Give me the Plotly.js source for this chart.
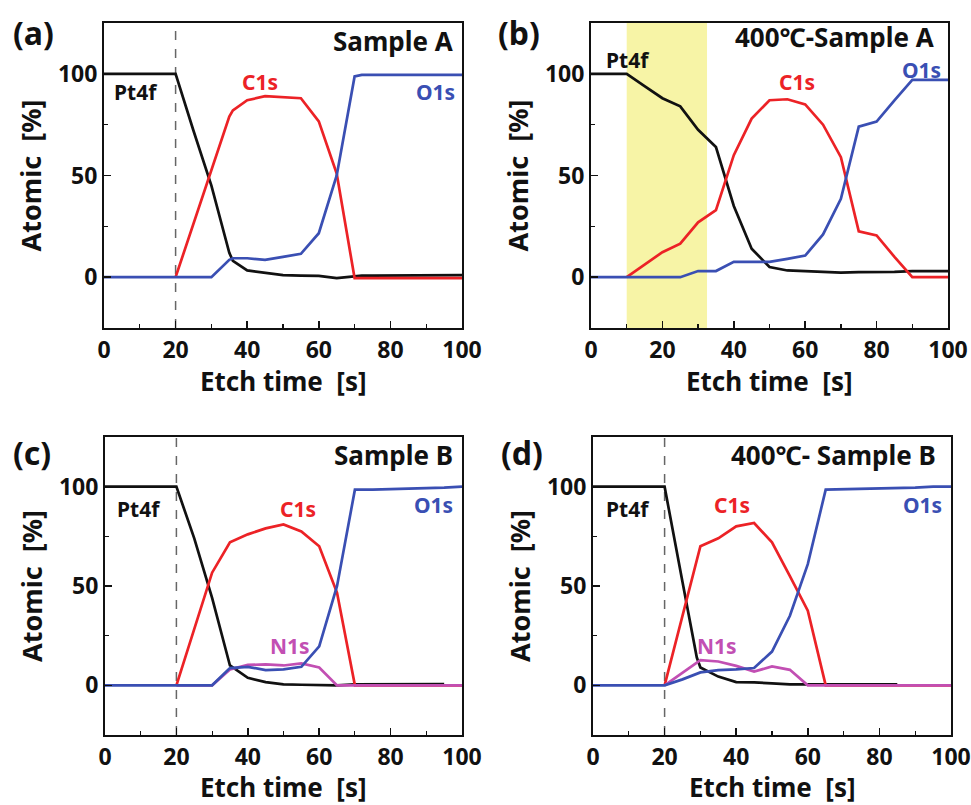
<!DOCTYPE html>
<html>
<head>
<meta charset="utf-8">
<script src="https://cdn.plot.ly/plotly-3.0.1.min.js"></script>
<style>html,body{margin:0;padding:0;background:#fff;} #chart{width:971px;height:805px;}</style>
</head>
<body>
<div id="chart"></div>
<script>
// ---------- DATA ----------
// Panel (a) Sample A
const tA = [0,5,10,15,20,25,30,35,36,40,45,50,55,60,65,70,72,75,80,85,90,95,100];
const a_Pt4f = [100,100,100,100,100,72,45,12,8,3.3,2,1,0.8,0.6,-0.5,0.6,0.8,0.8,0.8,0.8,0.8,1,1];
const a_C1s  = [null,null,null,null,0,26,52.6,79,82,87,89,88.5,88,76.6,51,-0.5,-0.5,-0.5,-0.5,-0.5,-0.5,-0.5,-0.5];
const a_O1s  = [0,0,0,0,0,0,0,8.5,9.3,9.3,8.5,10,11.5,21.6,50,98.7,99.5,99.5,99.5,99.5,99.5,99.5,99.5];

// Panel (b) 400℃-Sample A
const tB = [0,5,10,15,20,25,30,35,40,45,50,55,60,65,70,75,80,85,90,95,100];
const b_Pt4f = [100,100,100,94,88,84,72.5,64,35,14,5,3.3,3,2.8,2.2,2.5,2.5,2.6,3,3,3];
const b_C1s  = [null,null,0,6,12.3,16.5,27,33,60,78,87,87.5,85,75,59,22.5,20.5,10,0,0,0];
const b_O1s  = [0,0,0,0,0,0,3,3,7.5,7.5,7.5,9,10.6,21,38.5,74,76.5,87,97,97,97];

// Panel (c) Sample B
const tC = [0,5,10,15,20,25,30,35,40,45,50,55,60,65,70,75,80,85,90,95,100];
const c_Pt4f = [100,100,100,100,100,74,44,10,3.8,1.6,0.5,0.3,0.2,0,0.5,0.5,0.8,0.8,0.6,0.6,null];
const c_C1s  = [null,null,null,null,0,28.5,56.7,72,76,79,81,77.5,70,46.6,0,0,0,0,0,0,0];
const c_N1s  = [null,null,null,null,0,0,0,8,10.3,10.5,10,11,9,0,0,0,0,0,0,0,0];
const c_O1s  = [0,0,0,0,0,0,0,8.7,9.3,7.7,8,9.3,19.6,50,98.5,98.5,98.7,99,99,99.5,100];

// Panel (d) 400℃-Sample B
const tD_Pt4f = [0,5,10,15,20,25,29,30,35,40,45,50,55,60,65,70,75,80,85];
const d_Pt4f = [100,100,100,100,100,52,14,9,4.4,1.6,1.5,1,0.5,0.5,0.5,0.5,0.5,0.5,0.5];
const tD = [0,5,10,15,20,25,30,35,40,45,50,55,60,65,70,75,80,85,90,95,100];
const d_C1s  = [null,null,null,null,0,35,70,74,80,81.7,72,55,37.6,0,0,0,0,0,0,0,0];
const d_N1s  = [null,null,null,null,0,6.5,12.7,12,9.8,6.9,9.5,7.8,0,0,0,0,0,0,0,0,0];
const d_O1s  = [0,0,0,0,0,3,6.5,7.7,8,8.7,17,35,61,98.5,98.7,99,99,99.5,99.5,100,100];

// reference markers
const dashedTimes = [20, null, 20, 20];      // vertical dashed line per panel
const highlightB = [10, 32.5];               // yellow band in panel (b)

const panelLetters = ["(a)","(b)","(c)","(d)"];
const panelTitles = ["Sample A","400\u2103-Sample A","Sample B","400\u2103- Sample B"];
const xTitle = "Etch time\u00a0 [s]";
const yTitle = "Atomic\u00a0 [%]";
const xTicks = [0,20,40,60,80,100];
const yTicks = [0,50,100];

// ---------- STYLE ----------
const COL = {Pt4f:"#111111", C1s:"#ec2226", N1s:"#c24fb3", O1s:"#3a4fb3"};
const FONT = "Noto Sans, Open Sans, Liberation Sans, Arial, sans-serif";

const panels = [
  {xa:"x", ya:"y", series:[["Pt4f",tA,a_Pt4f],["C1s",tA,a_C1s],["O1s",tA,a_O1s]]},
  {xa:"x2",ya:"y2",series:[["Pt4f",tB,b_Pt4f],["C1s",tB,b_C1s],["O1s",tB,b_O1s]]},
  {xa:"x3",ya:"y3",series:[["Pt4f",tC,c_Pt4f],["C1s",tC,c_C1s],["N1s",tC,c_N1s],["O1s",tC,c_O1s]]},
  {xa:"x4",ya:"y4",series:[["Pt4f",tD_Pt4f,d_Pt4f],["C1s",tD,d_C1s],["N1s",tD,d_N1s],["O1s",tD,d_O1s]]}
];

const traces = [];
panels.forEach(p => {
  p.series.forEach(s => {
    traces.push({x:s[1], y:s[2], xaxis:p.xa, yaxis:p.ya, type:"scatter", mode:"lines",
      name:s[0], showlegend:false, hoverinfo:"skip", connectgaps:false,
      line:{color:COL[s[0]], width:2.7}});
  });
});

const W=971, H=805;
const boxes = [ // pixel boxes [x0,x1,y0,y1]
  [104,462,23,328],[591,948,23,328],[105,462,437,735],[593,951,437,735]
];
const xTitleY = [381,381,787,787];
function dom(b){return {x:[b[0]/W,b[1]/W], y:[1-b[3]/H, 1-b[2]/H]};}

function xaxisDef(d, anchor){
  return {domain:d.x, anchor:anchor, range:[0,100], tickvals:xTicks, ticks:"inside", ticklen:7, tickwidth:1.5,
    tickcolor:"#111", showline:true, linecolor:"#111", linewidth:2, mirror:true, showgrid:false, zeroline:false,
    ticklabeloverflow:"allow",
    minor:{ticks:"inside", ticklen:4, tickwidth:1.2, dtick:10, tickcolor:"#111", showgrid:false},
    tickfont:{family:FONT, size:23, color:"#111", weight:"bold"}};
}
function yaxisDef(d, anchor){
  return {domain:d.y, anchor:anchor, range:[-25,125], tickvals:yTicks, ticks:"inside", ticklen:7, tickwidth:1.5,
    tickcolor:"#111", showline:true, linecolor:"#111", linewidth:2, mirror:true, showgrid:false, zeroline:false,
    minor:{ticks:"inside", ticklen:4, tickwidth:1.2, dtick:25, tickcolor:"#111", showgrid:false},
    tickfont:{family:FONT, size:23, color:"#111", weight:"bold"},
    title:{text:"<b>"+yTitle+"</b>", font:{family:FONT, size:27, color:"#111"}, standoff:8}};
}

const layout = {width:W, height:H, margin:{l:0,r:0,t:0,b:0}, paper_bgcolor:"#fff", plot_bgcolor:"#fff",
  showlegend:false, font:{family:FONT}};
const suffix = ["","2","3","4"];
boxes.forEach((b,i)=>{
  const d = dom(b);
  layout["xaxis"+suffix[i]] = xaxisDef(d, "y"+suffix[i]);
  layout["yaxis"+suffix[i]] = yaxisDef(d, "x"+suffix[i]);
});

// shapes
const shapes = [];
shapes.push({type:"rect", xref:"x2", yref:"y2 domain", x0:highlightB[0], x1:highlightB[1], y0:0, y1:1,
  fillcolor:"#f7f4a6", line:{width:0}, layer:"below"});
dashedTimes.forEach((t,i)=>{
  if(t===null) return;
  shapes.push({type:"line", xref:"x"+suffix[i], yref:"y"+suffix[i]+" domain", x0:t, x1:t, y0:0, y1:1,
    line:{color:"#666", width:1.5, dash:"dash"}, layer:"below"});
});
layout.shapes = shapes;

// annotations
const ann = [];
function A(text, xr, yr, x, y, color, size, xanchor){
  ann.push({text:"<b>"+text+"</b>", xref:xr, yref:yr, x:x, y:y, showarrow:false,
    font:{family:FONT, size:size, color:color}, xanchor:xanchor||"center", yanchor:"middle"});
}
// x-axis titles (placed just below each panel's tick labels)
boxes.forEach((b,i)=>{
  ann.push({text:"<b>"+xTitle+"</b>", xref:"x"+suffix[i]+" domain", yref:"paper", x:0.5, y:1-xTitleY[i]/H,
    showarrow:false, font:{family:FONT, size:26, color:"#111"}, xanchor:"center", yanchor:"middle"});
});
const letterPos = [[33,32],[519,32],[32,452],[522,452]];
panelLetters.forEach((t,i)=> A(t,"paper","paper", letterPos[i][0]/W, 1-letterPos[i][1]/H, "#111", 32, "center"));
const titleY = [116,118.2,116,116];
panelTitles.forEach((t,i)=> A(t,"x"+suffix[i],"y"+suffix[i], i%2===0?98:96.5, titleY[i], "#111", 26, "right"));
// species labels
const SL = 21;
A("Pt4f","x","y",2.2,91,COL.Pt4f,SL,"left");
A("C1s","x","y",43.6,96,COL.C1s,SL);
A("O1s","x","y",98.5,91,COL.O1s,SL,"right");
A("Pt4f","x2","y2",3.6,107,COL.Pt4f,SL,"left");
A("C1s","x2","y2",57.7,96,COL.C1s,SL);
A("O1s","x2","y2",98.6,101.8,COL.O1s,SL,"right");
A("Pt4f","x3","y3",2.8,89,COL.Pt4f,SL,"left");
A("C1s","x3","y3",54,89,COL.C1s,SL);
A("O1s","x3","y3",98,90.7,COL.O1s,SL,"right");
A("N1s","x3","y3",51.7,19.6,COL.N1s,SL);
A("Pt4f","x4","y4",3.1,89,COL.Pt4f,SL,"left");
A("C1s","x4","y4",38.8,91,COL.C1s,SL);
A("O1s","x4","y4",98,90.7,COL.O1s,SL,"right");
A("N1s","x4","y4",34.5,20,COL.N1s,SL);
layout.annotations = ann;

Plotly.newPlot("chart", traces, layout, {staticPlot:true, displayModeBar:false});
</script>
</body>
</html>
